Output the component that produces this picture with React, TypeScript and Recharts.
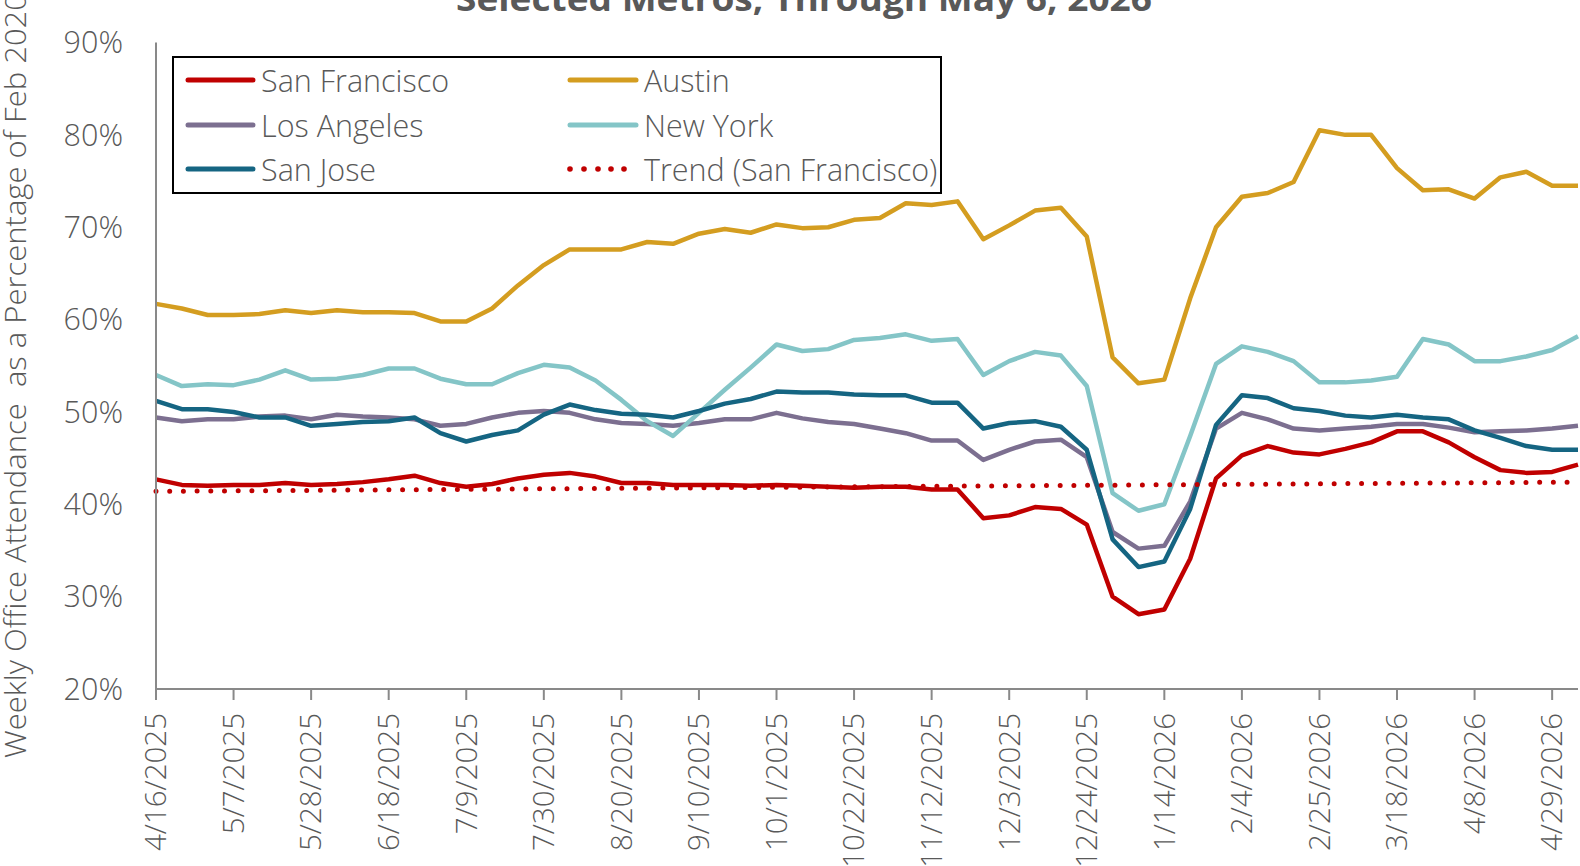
import React from "react";
import { LineChart, Line, XAxis, YAxis } from "recharts";

const dates = [
  "4/16/2025", "4/23/2025", "4/30/2025", "5/7/2025", "5/14/2025", "5/21/2025", "5/28/2025",
  "6/4/2025", "6/11/2025", "6/18/2025", "6/25/2025", "7/2/2025", "7/9/2025", "7/16/2025",
  "7/23/2025", "7/30/2025", "8/6/2025", "8/13/2025", "8/20/2025", "8/27/2025", "9/3/2025",
  "9/10/2025", "9/17/2025", "9/24/2025", "10/1/2025", "10/8/2025", "10/15/2025", "10/22/2025",
  "10/29/2025", "11/5/2025", "11/12/2025", "11/19/2025", "11/26/2025", "12/3/2025", "12/10/2025",
  "12/17/2025", "12/24/2025", "12/31/2025", "1/7/2026", "1/14/2026", "1/21/2026", "1/28/2026",
  "2/4/2026", "2/11/2026", "2/18/2026", "2/25/2026", "3/4/2026", "3/11/2026", "3/18/2026",
  "3/25/2026", "4/1/2026", "4/8/2026", "4/15/2026", "4/22/2026", "4/29/2026", "5/6/2026",
];

const sanFrancisco = [
  42.7, 42.1, 42.0, 42.1, 42.1, 42.3, 42.1, 42.2, 42.4, 42.7, 43.1, 42.3, 41.9, 42.2, 42.8, 43.2, 43.4, 43.0, 42.3, 42.3,
  42.1, 42.1, 42.1, 42.0, 42.1, 42.0, 41.9, 41.8, 41.9, 41.9, 41.6, 41.6, 38.5, 38.8, 39.7, 39.5, 37.8, 30.0, 28.1, 28.6,
  34.1, 42.8, 45.3, 46.3, 45.6, 45.4, 46.0, 46.7, 47.9, 47.9, 46.7, 45.1, 43.7, 43.4, 43.5, 44.3,
];
const austin = [
  61.7, 61.2, 60.5, 60.5, 60.6, 61.0, 60.7, 61.0, 60.8, 60.8, 60.7, 59.8, 59.8, 61.2, 63.7, 65.9, 67.6, 67.6, 67.6, 68.4,
  68.2, 69.3, 69.8, 69.4, 70.3, 69.9, 70.0, 70.8, 71.0, 72.6, 72.4, 72.8, 68.7, 70.2, 71.8, 72.1, 69.0, 55.9, 53.1, 53.5,
  62.3, 70.0, 73.3, 73.7, 74.9, 80.5, 80.0, 80.0, 76.4, 74.0, 74.1, 73.1, 75.4, 76.0, 74.5, 74.5,
];
const losAngeles = [
  49.4, 49.0, 49.2, 49.2, 49.5, 49.6, 49.2, 49.7, 49.5, 49.4, 49.2, 48.5, 48.7, 49.4, 49.9, 50.1, 49.9, 49.2, 48.8, 48.7,
  48.5, 48.8, 49.2, 49.2, 49.9, 49.3, 48.9, 48.7, 48.2, 47.7, 46.9, 46.9, 44.8, 45.9, 46.8, 47.0, 45.1, 37.0, 35.2, 35.5,
  40.3, 48.2, 49.9, 49.2, 48.2, 48.0, 48.2, 48.4, 48.7, 48.7, 48.3, 47.8, 47.9, 48.0, 48.2, 48.5,
];
const newYork = [
  54.0, 52.8, 53.0, 52.9, 53.5, 54.5, 53.5, 53.6, 54.0, 54.7, 54.7, 53.6, 53.0, 53.0, 54.2, 55.1, 54.8, 53.4, 51.3, 49.0,
  47.4, 49.9, 52.4, 54.8, 57.3, 56.6, 56.8, 57.8, 58.0, 58.4, 57.7, 57.9, 54.0, 55.5, 56.5, 56.1, 52.8, 41.2, 39.3, 40.0,
  47.4, 55.2, 57.1, 56.5, 55.5, 53.2, 53.2, 53.4, 53.8, 57.9, 57.3, 55.5, 55.5, 56.0, 56.7, 58.2,
];
const sanJose = [
  51.2, 50.3, 50.3, 50.0, 49.4, 49.4, 48.5, 48.7, 48.9, 49.0, 49.4, 47.7, 46.8, 47.5, 48.0, 49.7, 50.8, 50.2, 49.8, 49.7,
  49.4, 50.1, 50.9, 51.4, 52.2, 52.1, 52.1, 51.9, 51.8, 51.8, 51.0, 51.0, 48.2, 48.8, 49.0, 48.4, 45.9, 36.2, 33.2, 33.8,
  39.5, 48.6, 51.8, 51.5, 50.4, 50.1, 49.6, 49.4, 49.7, 49.4, 49.2, 48.0, 47.2, 46.3, 45.9, 45.9,
];
// Linear trend of San Francisco: endpoint values (first and last week)
const trendStart = 41.4;
const trendEnd = 42.4;

const yTicks = [20, 30, 40, 50, 60, 70, 80, 90];

const COLORS = {
  sf: "#C00000",
  austin: "#D49D20",
  la: "#7C6F90",
  ny: "#84C5C7",
  sj: "#156582",
};

const FONT = "'Open Sans', 'Segoe UI', sans-serif";
const WEIGHT = 300;
const TEXT = "#595959";
const AXIS = "#898989";

const data = dates.map((d, i) => ({
  date: d,
  sf: sanFrancisco[i],
  austin: austin[i],
  la: losAngeles[i],
  ny: newYork[i],
  sj: sanJose[i],
  trend: i === 0 ? trendStart : i === dates.length - 1 ? trendEnd : null,
}));

const XTick = (props: any) => {
  const { x, y, payload } = props;
  return (
    <text
      x={x}
      y={y}
      transform={`rotate(-90, ${x}, ${y})`}
      textAnchor="end"
      dy="0.35em"
      fontSize={29.5}
      fontWeight={WEIGHT}
      fill={TEXT}
      fontFamily={FONT}
    >
      {payload.value}
    </text>
  );
};

const legendRows = [
  { y: 80, left: { label: "San Francisco", color: COLORS.sf }, right: { label: "Austin", color: COLORS.austin } },
  { y: 125, left: { label: "Los Angeles", color: COLORS.la }, right: { label: "New York", color: COLORS.ny } },
  { y: 169, left: { label: "San Jose", color: COLORS.sj }, right: { label: "Trend (San Francisco)", color: COLORS.sf, dotted: true } },
];

export default function App() {
  return (
    <div style={{ position: "absolute", left: 0, top: 0, width: 1580, height: 866, background: "#fff", overflow: "hidden" }}>
      <LineChart width={1580} height={866} data={data} margin={{ top: 42.5, right: 2, bottom: 0, left: 0 }}>
        <XAxis
          dataKey="date"
          interval={2}
          height={177}
          tickSize={11}
          tickMargin={13}
          tickLine={{ stroke: AXIS, strokeWidth: 2 }}
          axisLine={{ stroke: AXIS, strokeWidth: 2 }}
          tick={<XTick />}
          padding={{ left: 0, right: 0 }}
        />
        <YAxis
          width={156}
          domain={[20, 90]}
          ticks={yTicks}
          allowDataOverflow
          tickFormatter={(v: number) => `${v}%`}
          tickLine={false}
          tickSize={0}
          tickMargin={33}
          axisLine={{ stroke: AXIS, strokeWidth: 2 }}
          tick={{ fill: TEXT, fontSize: 30.5, fontFamily: FONT, fontWeight: WEIGHT }}
        />
        <Line dataKey="sf" stroke={COLORS.sf} strokeWidth={4.5} dot={false} type="linear" strokeLinejoin="round" isAnimationActive={false} />
        <Line dataKey="austin" stroke={COLORS.austin} strokeWidth={4.5} dot={false} type="linear" strokeLinejoin="round" isAnimationActive={false} />
        <Line dataKey="la" stroke={COLORS.la} strokeWidth={4.5} dot={false} type="linear" strokeLinejoin="round" isAnimationActive={false} />
        <Line dataKey="ny" stroke={COLORS.ny} strokeWidth={4.5} dot={false} type="linear" strokeLinejoin="round" isAnimationActive={false} />
        <Line dataKey="sj" stroke={COLORS.sj} strokeWidth={4.5} dot={false} type="linear" strokeLinejoin="round" isAnimationActive={false} />
        <Line
          dataKey="trend"
          stroke={COLORS.sf}
          strokeWidth={5}
          strokeDasharray="0 13.7"
          strokeLinecap="round"
          dot={false}
          connectNulls
          type="linear"
          isAnimationActive={false}
        />
      </LineChart>
      <svg
        width={1580}
        height={866}
        style={{ position: "absolute", left: 0, top: 0, pointerEvents: "none" }}
      >
        <text
          x={804}
          y={11}
          textAnchor="middle"
          fontSize={34}
          fontWeight="bold"
          fill={TEXT}
          fontFamily={FONT}
          textLength={696}
          lengthAdjust="spacingAndGlyphs"
        >
          Selected Metros, Through May 6, 2026
        </text>
        <text
          x={26}
          y={758}
          transform="rotate(-90, 26, 758)"
          textAnchor="start"
          fontSize={28.5}
          fontWeight={WEIGHT}
          fill={TEXT}
          fontFamily={FONT}
          textLength={765}
          lengthAdjust="spacingAndGlyphs"
        >
          {"Weekly Office Attendance\u00a0 as a Percentage of Feb 2020"}
        </text>
        <rect x={173} y={57} width={768} height={136} fill="#fff" stroke="#000" strokeWidth={2} />
        {legendRows.map((r, k) => (
          <g key={k}>
            <line x1={188} x2={253} y1={r.y} y2={r.y} stroke={r.left.color} strokeWidth={5} strokeLinecap="round" />
            <text x={261} y={r.y} dominantBaseline="central" fontSize={30.5} fontWeight={WEIGHT} fill={TEXT} fontFamily={FONT}>
              {r.left.label}
            </text>
            {r.right.dotted ? (
              [570, 584, 598, 611, 624].map((cx) => (
                <circle key={cx} cx={cx} cy={r.y} r={2.8} fill={r.right.color} />
              ))
            ) : (
              <line x1={570} x2={636} y1={r.y} y2={r.y} stroke={r.right.color} strokeWidth={5} strokeLinecap="round" />
            )}
            <text x={644} y={r.y} dominantBaseline="central" fontSize={30.5} fontWeight={WEIGHT} fill={TEXT} fontFamily={FONT}>
              {r.right.label}
            </text>
          </g>
        ))}
      </svg>
    </div>
  );
}
